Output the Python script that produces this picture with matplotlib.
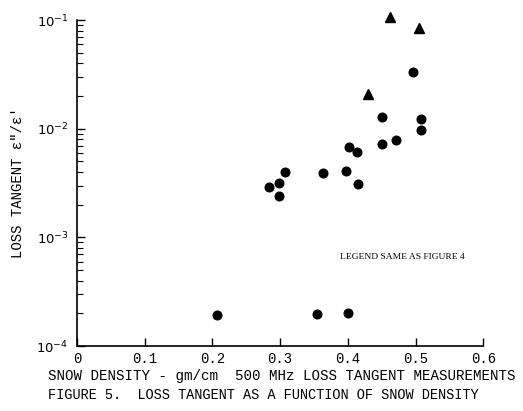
import matplotlib
matplotlib.use("Agg")
import matplotlib.pyplot as plt
from matplotlib.ticker import LogLocator, NullFormatter

# Data
circle_density = [0.497, 0.451, 0.508, 0.508, 0.402, 0.414, 0.451, 0.471,
                  0.307, 0.298, 0.283, 0.298, 0.364, 0.397, 0.415,
                  0.207, 0.354, 0.401]
circle_tangent = [0.0334, 0.0128, 0.0123, 0.0097, 0.0068, 0.0061, 0.0072, 0.0079,
                  0.0040, 0.0032, 0.0029, 0.0024, 0.0039, 0.0041, 0.0031,
                  0.000195, 0.000198, 0.000200]
tri_density = [0.463, 0.505, 0.430]
tri_tangent = [0.108, 0.085, 0.021]

xticks = [0, 0.1, 0.2, 0.3, 0.4, 0.5, 0.6]
xtick_labels = ["0", "0.1", "0.2", "0.3", "0.4", "0.5", "0.6"]
yticks = [1e-4, 1e-3, 1e-2, 1e-1]
ytick_labels = [r"$10^{-4}$", r"$10^{-3}$", r"$10^{-2}$", r"$10^{-1}$"]

mono = "Liberation Mono"

fig = plt.figure(figsize=(5.23, 4.11), dpi=100)
ax = fig.add_axes([0.147, 0.158, 0.777, 0.793])

ax.plot(circle_density, circle_tangent, linestyle="none", marker="o",
        markersize=6.2, color="black", clip_on=False)
ax.plot(tri_density, tri_tangent, linestyle="none", marker="^",
        markersize=7, color="black", clip_on=False)

ax.set_yscale("log")
ax.set_xlim(0, 0.6)
ax.set_ylim(1e-4, 1e-1)

for s in ["top", "right"]:
    ax.spines[s].set_visible(False)
for s in ["left", "bottom"]:
    ax.spines[s].set_linewidth(1.2)

ax.set_xticks(xticks)
ax.set_xticklabels(xtick_labels, fontfamily=mono, fontsize=10)
ax.set_yticks(yticks)
ax.set_yticklabels(ytick_labels, fontsize=9.5)
ax.yaxis.set_minor_locator(LogLocator(base=10, subs=range(2, 10)))
ax.yaxis.set_minor_formatter(NullFormatter())
ax.tick_params(axis="both", which="major", direction="in", length=6, width=1)
ax.tick_params(axis="y", which="minor", direction="in", length=4, width=0.8)
ax.tick_params(axis="x", which="major", pad=4)
ax.tick_params(axis="y", which="major", pad=6)

ax.set_ylabel("LOSS TANGENT \u03b5\"/\u03b5'", fontfamily=mono, fontsize=10, labelpad=8)

ax.text(0.389, 6.6e-4, "LEGEND SAME AS FIGURE 4", fontfamily="Liberation Serif",
        fontsize=6.8, ha="left", va="center")

fig.text(0.092, 0.085, "SNOW DENSITY - gm/cm  500 MHz LOSS TANGENT MEASUREMENTS",
         fontfamily=mono, fontsize=10.2, ha="left", va="center")
fig.text(0.092, 0.038, "FIGURE 5.  LOSS TANGENT AS A FUNCTION OF SNOW DENSITY",
         fontfamily=mono, fontsize=9.8, ha="left", va="center")

fig.savefig("out.png", dpi=100)
